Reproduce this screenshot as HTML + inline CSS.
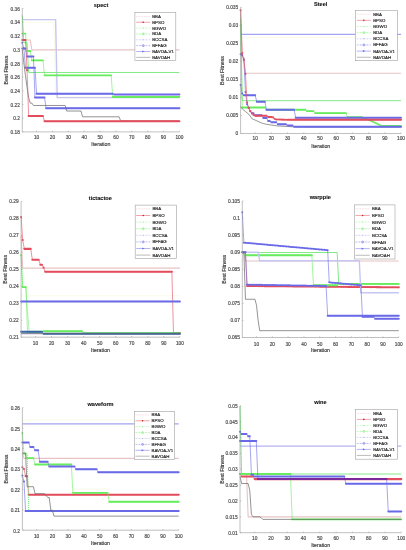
<!DOCTYPE html><html><head><meta charset="utf-8"><style>
html,body{margin:0;padding:0;background:#fff;width:406px;height:550px;overflow:hidden}
svg{display:block}
text{font-family:"Liberation Sans", sans-serif;fill:#3a3a3a;stroke:#3a3a3a;stroke-width:0.1px}
.tk{font-size:4.8px;fill:#4a4a4a;stroke:#4a4a4a;stroke-width:0.16px}
.al{font-size:5.25px;fill:#333;stroke:#333;stroke-width:0.14px}
.ti{font-size:5.6px;font-weight:bold;fill:#111;stroke:#111;stroke-width:0.1px}
.lg{font-size:4.4px;fill:#222;stroke:#222;stroke-width:0.15px}
</style></head><body>
<svg width="406" height="550" viewBox="0 0 406 550" style="will-change:transform">
<rect width="406" height="550" fill="#fff"/>
<path d="M22.30 22.12 L54.04 22.12 L55.62 96.91 L179.40 96.91" fill="none" stroke="#f9fbe8" stroke-width="1.0"/>
<path d="M22.30 39.96 L30.23 39.96 L31.82 49.91 L179.40 49.91" fill="none" stroke="#e8c3c6" stroke-width="1.1"/>
<path d="M22.30 19.65 L55.62 19.65 L57.21 97.66 L179.40 97.66" fill="none" stroke="#c6c6f2" stroke-width="1.4"/>
<path d="M22.30 15.26 L23.89 42.71 L27.06 42.71 L28.65 72.48 L179.40 72.48" fill="none" stroke="#74e878" stroke-width="0.9"/>
<path d="M22.30 33.58 L25.47 33.58 L27.06 50.94 L30.23 50.94 L31.82 60.34 L42.93 60.34 L44.52 75.36 L111.16 75.36 L112.75 96.98 L179.40 96.98" fill="none" stroke="#66ec5c" stroke-width="0.6"/>
<path d="M22.30 33.58H25.47M27.06 50.94H30.23M31.82 60.34H42.93M44.52 75.36H111.16M112.75 96.98H179.40" fill="none" stroke="#66ec5c" stroke-width="1.9" stroke-linecap="round"/>
<path d="M22.30 48.47 L23.89 48.47 L25.47 67.75 L34.99 67.75 L36.58 93.68 L112.75 93.68 L114.34 94.51 L179.40 94.51" fill="none" stroke="#6a6ae8" stroke-width="0.6"/>
<path d="M22.30 48.47H23.89M25.47 67.75H34.99M36.58 93.68H112.75M114.34 94.51H179.40" fill="none" stroke="#6a6ae8" stroke-width="2.0" stroke-linecap="round"/>
<path d="M22.30 42.71 L23.89 48.47 L25.47 48.47 L27.06 56.56 L33.41 56.56 L34.99 97.59 L44.52 97.59 L46.10 108.16 L179.40 108.16" fill="none" stroke="#6a6ae8" stroke-width="0.6"/>
<path d="M22.30 42.71h0.01M23.89 48.47H25.47M27.06 56.56H33.41M34.99 97.59H44.52M46.10 108.16H179.40" fill="none" stroke="#6a6ae8" stroke-width="2.0" stroke-linecap="round"/>
<path d="M22.30 49.57 L23.89 63.29 L25.47 75.64 L27.06 87.30 L28.65 97.59 L30.23 103.08 L31.82 103.08 L33.41 105.48 L65.15 105.48 L66.73 111.04 L81.01 111.04 L82.60 116.81 L119.10 116.81 L120.69 120.92 L179.40 120.92" fill="none" stroke="#666666" stroke-width="0.7"/>
<path d="M22.30 39.96 L25.47 39.96 L27.06 70.15 L28.65 116.05 L42.93 116.05 L44.52 121.27 L179.40 121.27" fill="none" stroke="#e34c5c" stroke-width="0.6"/>
<path d="M22.30 39.96H25.47M27.06 70.15h0.01M28.65 116.05H42.93M44.52 121.27H179.40" fill="none" stroke="#e34c5c" stroke-width="2.1" stroke-linecap="round"/>
<path d="M22.30 8.40 L22.30 131.90 L179.40 131.90" fill="none" stroke="#969696" stroke-width="0.6"/>
<line x1="36.58" y1="131.90" x2="36.58" y2="130.70" stroke="#969696" stroke-width="0.5"/>
<text x="36.58" y="139.20" text-anchor="middle" class="tk">10</text>
<line x1="52.45" y1="131.90" x2="52.45" y2="130.70" stroke="#969696" stroke-width="0.5"/>
<text x="52.45" y="139.20" text-anchor="middle" class="tk">20</text>
<line x1="68.32" y1="131.90" x2="68.32" y2="130.70" stroke="#969696" stroke-width="0.5"/>
<text x="68.32" y="139.20" text-anchor="middle" class="tk">30</text>
<line x1="84.19" y1="131.90" x2="84.19" y2="130.70" stroke="#969696" stroke-width="0.5"/>
<text x="84.19" y="139.20" text-anchor="middle" class="tk">40</text>
<line x1="100.06" y1="131.90" x2="100.06" y2="130.70" stroke="#969696" stroke-width="0.5"/>
<text x="100.06" y="139.20" text-anchor="middle" class="tk">50</text>
<line x1="115.93" y1="131.90" x2="115.93" y2="130.70" stroke="#969696" stroke-width="0.5"/>
<text x="115.93" y="139.20" text-anchor="middle" class="tk">60</text>
<line x1="131.79" y1="131.90" x2="131.79" y2="130.70" stroke="#969696" stroke-width="0.5"/>
<text x="131.79" y="139.20" text-anchor="middle" class="tk">70</text>
<line x1="147.66" y1="131.90" x2="147.66" y2="130.70" stroke="#969696" stroke-width="0.5"/>
<text x="147.66" y="139.20" text-anchor="middle" class="tk">80</text>
<line x1="163.53" y1="131.90" x2="163.53" y2="130.70" stroke="#969696" stroke-width="0.5"/>
<text x="163.53" y="139.20" text-anchor="middle" class="tk">90</text>
<line x1="179.40" y1="131.90" x2="179.40" y2="130.70" stroke="#969696" stroke-width="0.5"/>
<text x="179.40" y="139.20" text-anchor="middle" class="tk">100</text>
<line x1="22.30" y1="131.90" x2="23.50" y2="131.90" stroke="#969696" stroke-width="0.5"/>
<text x="19.90" y="134.20" text-anchor="end" class="tk">0.18</text>
<line x1="22.30" y1="118.18" x2="23.50" y2="118.18" stroke="#969696" stroke-width="0.5"/>
<text x="19.90" y="120.48" text-anchor="end" class="tk">0.2</text>
<line x1="22.30" y1="104.46" x2="23.50" y2="104.46" stroke="#969696" stroke-width="0.5"/>
<text x="19.90" y="106.76" text-anchor="end" class="tk">0.22</text>
<line x1="22.30" y1="90.73" x2="23.50" y2="90.73" stroke="#969696" stroke-width="0.5"/>
<text x="19.90" y="93.03" text-anchor="end" class="tk">0.24</text>
<line x1="22.30" y1="77.01" x2="23.50" y2="77.01" stroke="#969696" stroke-width="0.5"/>
<text x="19.90" y="79.31" text-anchor="end" class="tk">0.26</text>
<line x1="22.30" y1="63.29" x2="23.50" y2="63.29" stroke="#969696" stroke-width="0.5"/>
<text x="19.90" y="65.59" text-anchor="end" class="tk">0.28</text>
<line x1="22.30" y1="49.57" x2="23.50" y2="49.57" stroke="#969696" stroke-width="0.5"/>
<text x="19.90" y="51.87" text-anchor="end" class="tk">0.3</text>
<line x1="22.30" y1="35.84" x2="23.50" y2="35.84" stroke="#969696" stroke-width="0.5"/>
<text x="19.90" y="38.14" text-anchor="end" class="tk">0.32</text>
<line x1="22.30" y1="22.12" x2="23.50" y2="22.12" stroke="#969696" stroke-width="0.5"/>
<text x="19.90" y="24.42" text-anchor="end" class="tk">0.34</text>
<line x1="22.30" y1="8.40" x2="23.50" y2="8.40" stroke="#969696" stroke-width="0.5"/>
<text x="19.90" y="10.70" text-anchor="end" class="tk">0.36</text>
<text x="100.85" y="146.40" text-anchor="middle" class="al">Iteration</text>
<text transform="translate(8.30 70.15) rotate(-90)" text-anchor="middle" class="al">Best Fitness</text>
<text x="101.00" y="6.80" text-anchor="middle" class="ti">spect</text>
<rect x="134.90" y="12.30" width="40.90" height="48.00" fill="#fff" stroke="#a0a0a0" stroke-width="0.6"/>
<line x1="136.20" y1="16.40" x2="150.30" y2="16.40" stroke="#f2a6a6" stroke-width="0.5" stroke-dasharray="0.8 0.8"/>
<text x="152.20" y="17.90" class="lg">BBA</text>
<line x1="136.20" y1="22.25" x2="150.30" y2="22.25" stroke="#e34c5c" stroke-width="0.5"/>
<circle cx="143.25" cy="22.25" r="0.8" fill="#d02020"/>
<text x="152.20" y="23.75" class="lg">BPSO</text>
<line x1="136.20" y1="28.10" x2="150.30" y2="28.10" stroke="#8ef08e" stroke-width="0.5" stroke-dasharray="1.6 0.6 0.4 0.6"/>
<circle cx="143.25" cy="28.10" r="0.5" fill="#8ef08e"/>
<text x="152.20" y="29.60" class="lg">BGWO</text>
<line x1="136.20" y1="33.95" x2="150.30" y2="33.95" stroke="#74ec6c" stroke-width="0.5" stroke-dasharray="1.6 0.6 0.4 0.6"/>
<circle cx="143.25" cy="33.95" r="1.0" fill="none" stroke="#74ec6c" stroke-width="0.6"/>
<text x="152.20" y="35.45" class="lg">BDA</text>
<line x1="136.20" y1="39.80" x2="150.30" y2="39.80" stroke="#a8a8ee" stroke-width="0.5" stroke-dasharray="1.6 0.6 0.4 0.6"/>
<circle cx="143.25" cy="39.80" r="0.5" fill="#a8a8ee"/>
<text x="152.20" y="41.30" class="lg">BCCSA</text>
<line x1="136.20" y1="45.65" x2="150.30" y2="45.65" stroke="#7070e8" stroke-width="0.5" stroke-dasharray="1.6 0.6 0.4 0.6"/>
<circle cx="143.25" cy="45.65" r="1.0" fill="none" stroke="#7070e8" stroke-width="0.6"/>
<text x="152.20" y="47.15" class="lg">BFFAG</text>
<line x1="136.20" y1="51.50" x2="150.30" y2="51.50" stroke="#6a6ae8" stroke-width="0.5"/>
<path d="M142.25 50.40 L144.45 51.50 L142.25 52.60 Z" fill="#6a6ae8"/>
<text x="152.20" y="53.00" class="lg">BAVOA-V1</text>
<line x1="136.20" y1="57.35" x2="150.30" y2="57.35" stroke="#777777" stroke-width="0.5"/>
<text x="152.20" y="58.85" class="lg">BAVOAH</text>
<path d="M240.60 37.66 L401.00 37.66" fill="none" stroke="#f9fbe8" stroke-width="1.0"/>
<path d="M240.60 10.28 L242.22 57.84 L243.84 57.84 L245.46 73.26 L401.00 73.26" fill="none" stroke="#e8c3c6" stroke-width="1.1"/>
<path d="M240.60 34.42 L401.00 34.42" fill="none" stroke="#a4a4f0" stroke-width="1.3"/>
<path d="M240.60 18.21 L242.22 100.71 L401.00 100.71" fill="none" stroke="#74e878" stroke-width="0.9"/>
<path d="M240.60 25.41 L242.22 107.56 L264.90 107.56 L266.52 109.72 L305.41 109.72 L307.03 111.16 L313.51 111.16 L315.13 113.14 L345.91 113.14 L347.53 117.29 L362.12 117.29 L363.74 117.92 L365.36 118.55 L366.98 119.18 L368.60 119.81 L370.22 120.53 L371.84 121.25 L373.46 121.97 L375.08 122.69 L376.70 123.50 L378.32 124.31 L379.94 125.12 L381.56 125.93 L401.00 125.93" fill="none" stroke="#66ec5c" stroke-width="0.6"/>
<path d="M240.60 25.41h0.01M242.22 107.56H264.90M266.52 109.72H305.41M307.03 111.16H313.51M315.13 113.14H345.91M347.53 117.29H362.12M363.74 117.92h0.01M365.36 118.55h0.01M366.98 119.18h0.01M368.60 119.81h0.01M370.22 120.53h0.01M371.84 121.25h0.01M373.46 121.97h0.01M375.08 122.69h0.01M376.70 123.50h0.01M378.32 124.31h0.01M379.94 125.12h0.01M381.56 125.93H401.00" fill="none" stroke="#66ec5c" stroke-width="1.9" stroke-linecap="round"/>
<path d="M240.60 85.08 L242.22 93.51 L243.84 95.20 L255.18 95.20 L256.80 101.79 L264.90 101.79 L266.52 109.72 L294.07 109.72 L295.69 117.76 L401.00 117.76" fill="none" stroke="#6a6ae8" stroke-width="0.6"/>
<path d="M240.60 85.08h0.01M242.22 93.51h0.01M243.84 95.20H255.18M256.80 101.79H264.90M266.52 109.72H294.07M295.69 117.76H401.00" fill="none" stroke="#6a6ae8" stroke-width="2.0" stroke-linecap="round"/>
<path d="M240.60 106.48 L242.22 108.90 L243.84 110.23 L245.46 111.55 L247.08 112.88 L248.70 114.20 L250.32 116.21 L251.94 118.66 L253.56 119.38 L255.18 120.10 L256.80 120.82 L258.42 121.54 L260.04 122.26 L261.66 122.98 L263.28 123.55 L264.90 123.90 L266.52 124.25 L268.14 124.56 L269.76 124.81 L271.38 125.05 L273.00 125.29 L274.62 125.53 L276.24 125.77 L277.86 125.96 L279.48 126.05 L281.11 126.13 L282.73 126.22 L284.35 126.31 L285.97 126.39 L287.59 126.48 L289.21 126.57 L290.83 126.65 L292.45 126.70 L294.07 126.74 L295.69 126.79 L297.31 126.83 L298.93 126.88 L300.55 126.92 L302.17 126.97 L303.79 127.01 L401.00 127.01" fill="none" stroke="#666666" stroke-width="0.7"/>
<path d="M240.60 54.24 L242.22 55.19 L243.84 59.31 L245.46 91.99 L247.08 104.24 L248.70 107.73 L250.32 111.23 L251.94 113.32 L253.56 113.32 L255.18 115.13 L261.66 115.13 L263.28 118.01 L266.52 118.01 L268.14 120.89 L269.76 120.89 L271.38 122.33 L276.24 122.33 L277.86 124.13 L285.97 124.13 L287.59 125.57 L292.45 125.57 L294.07 126.65 L401.00 126.65" fill="none" stroke="#6a6ae8" stroke-width="0.6"/>
<path d="M240.60 54.24h0.01M242.22 55.19h0.01M243.84 59.31h0.01M245.46 91.99h0.01M247.08 104.24h0.01M248.70 107.73h0.01M250.32 111.23h0.01M251.94 113.32H253.56M255.18 115.13H261.66M263.28 118.01H266.52M268.14 120.89H269.76M271.38 122.33H276.24M277.86 124.13H285.97M287.59 125.57H292.45M294.07 126.65H401.00" fill="none" stroke="#6a6ae8" stroke-width="2.0" stroke-linecap="round"/>
<path d="M240.60 10.28 L242.22 53.16 L243.84 59.95 L245.46 73.87 L247.08 102.53 L248.70 108.12 L250.32 111.15 L251.94 113.56 L253.56 115.03 L255.18 115.77 L266.52 115.77 L268.14 116.93 L271.38 116.93 L273.00 117.35 L274.62 118.75 L276.24 119.47 L277.86 119.52 L279.48 119.57 L281.11 119.62 L282.73 119.67 L284.35 119.71 L285.97 119.76 L287.59 119.81 L401.00 119.81" fill="none" stroke="#e34c5c" stroke-width="0.6"/>
<path d="M240.60 10.28h0.01M242.22 53.16h0.01M243.84 59.95h0.01M245.46 73.87h0.01M247.08 102.53h0.01M248.70 108.12h0.01M250.32 111.15h0.01M251.94 113.56h0.01M253.56 115.03h0.01M255.18 115.77H266.52M268.14 116.93H271.38M273.00 117.35h0.01M274.62 118.75h0.01M276.24 119.47h0.01M277.86 119.52h0.01M279.48 119.57h0.01M281.11 119.62h0.01M282.73 119.67h0.01M284.35 119.71h0.01M285.97 119.76h0.01M287.59 119.81H401.00" fill="none" stroke="#e34c5c" stroke-width="2.1" stroke-linecap="round"/>
<path d="M240.60 7.40 L240.60 133.50 L401.00 133.50" fill="none" stroke="#969696" stroke-width="0.6"/>
<line x1="255.18" y1="133.50" x2="255.18" y2="132.30" stroke="#969696" stroke-width="0.5"/>
<text x="255.18" y="140.40" text-anchor="middle" class="tk">10</text>
<line x1="271.38" y1="133.50" x2="271.38" y2="132.30" stroke="#969696" stroke-width="0.5"/>
<text x="271.38" y="140.40" text-anchor="middle" class="tk">20</text>
<line x1="287.59" y1="133.50" x2="287.59" y2="132.30" stroke="#969696" stroke-width="0.5"/>
<text x="287.59" y="140.40" text-anchor="middle" class="tk">30</text>
<line x1="303.79" y1="133.50" x2="303.79" y2="132.30" stroke="#969696" stroke-width="0.5"/>
<text x="303.79" y="140.40" text-anchor="middle" class="tk">40</text>
<line x1="319.99" y1="133.50" x2="319.99" y2="132.30" stroke="#969696" stroke-width="0.5"/>
<text x="319.99" y="140.40" text-anchor="middle" class="tk">50</text>
<line x1="336.19" y1="133.50" x2="336.19" y2="132.30" stroke="#969696" stroke-width="0.5"/>
<text x="336.19" y="140.40" text-anchor="middle" class="tk">60</text>
<line x1="352.39" y1="133.50" x2="352.39" y2="132.30" stroke="#969696" stroke-width="0.5"/>
<text x="352.39" y="140.40" text-anchor="middle" class="tk">70</text>
<line x1="368.60" y1="133.50" x2="368.60" y2="132.30" stroke="#969696" stroke-width="0.5"/>
<text x="368.60" y="140.40" text-anchor="middle" class="tk">80</text>
<line x1="384.80" y1="133.50" x2="384.80" y2="132.30" stroke="#969696" stroke-width="0.5"/>
<text x="384.80" y="140.40" text-anchor="middle" class="tk">90</text>
<line x1="401.00" y1="133.50" x2="401.00" y2="132.30" stroke="#969696" stroke-width="0.5"/>
<text x="401.00" y="140.40" text-anchor="middle" class="tk">100</text>
<line x1="240.60" y1="133.50" x2="241.80" y2="133.50" stroke="#969696" stroke-width="0.5"/>
<text x="238.20" y="135.35" text-anchor="end" class="tk">0</text>
<line x1="240.60" y1="115.49" x2="241.80" y2="115.49" stroke="#969696" stroke-width="0.5"/>
<text x="238.20" y="117.34" text-anchor="end" class="tk">0.005</text>
<line x1="240.60" y1="97.47" x2="241.80" y2="97.47" stroke="#969696" stroke-width="0.5"/>
<text x="238.20" y="99.32" text-anchor="end" class="tk">0.01</text>
<line x1="240.60" y1="79.46" x2="241.80" y2="79.46" stroke="#969696" stroke-width="0.5"/>
<text x="238.20" y="81.31" text-anchor="end" class="tk">0.015</text>
<line x1="240.60" y1="61.44" x2="241.80" y2="61.44" stroke="#969696" stroke-width="0.5"/>
<text x="238.20" y="63.29" text-anchor="end" class="tk">0.02</text>
<line x1="240.60" y1="43.43" x2="241.80" y2="43.43" stroke="#969696" stroke-width="0.5"/>
<text x="238.20" y="45.28" text-anchor="end" class="tk">0.025</text>
<line x1="240.60" y1="25.41" x2="241.80" y2="25.41" stroke="#969696" stroke-width="0.5"/>
<text x="238.20" y="27.26" text-anchor="end" class="tk">0.03</text>
<line x1="240.60" y1="7.40" x2="241.80" y2="7.40" stroke="#969696" stroke-width="0.5"/>
<text x="238.20" y="9.25" text-anchor="end" class="tk">0.035</text>
<text x="320.80" y="148.00" text-anchor="middle" class="al">Iteration</text>
<text transform="translate(223.70 70.45) rotate(-90)" text-anchor="middle" class="al">Best Fitness</text>
<text x="320.70" y="5.80" text-anchor="middle" class="ti">Steel</text>
<rect x="355.30" y="10.50" width="42.10" height="50.20" fill="#fff" stroke="#a0a0a0" stroke-width="0.6"/>
<line x1="356.80" y1="14.20" x2="370.90" y2="14.20" stroke="#f2a6a6" stroke-width="0.5" stroke-dasharray="0.8 0.8"/>
<text x="373.20" y="15.70" class="lg">BBA</text>
<line x1="356.80" y1="20.35" x2="370.90" y2="20.35" stroke="#e34c5c" stroke-width="0.5"/>
<circle cx="363.85" cy="20.35" r="0.8" fill="#d02020"/>
<text x="373.20" y="21.85" class="lg">BPSO</text>
<line x1="356.80" y1="26.50" x2="370.90" y2="26.50" stroke="#8ef08e" stroke-width="0.5" stroke-dasharray="1.6 0.6 0.4 0.6"/>
<circle cx="363.85" cy="26.50" r="0.5" fill="#8ef08e"/>
<text x="373.20" y="28.00" class="lg">BGWO</text>
<line x1="356.80" y1="32.65" x2="370.90" y2="32.65" stroke="#74ec6c" stroke-width="0.5" stroke-dasharray="1.6 0.6 0.4 0.6"/>
<circle cx="363.85" cy="32.65" r="1.0" fill="none" stroke="#74ec6c" stroke-width="0.6"/>
<text x="373.20" y="34.15" class="lg">BDA</text>
<line x1="356.80" y1="38.80" x2="370.90" y2="38.80" stroke="#a8a8ee" stroke-width="0.5" stroke-dasharray="1.6 0.6 0.4 0.6"/>
<circle cx="363.85" cy="38.80" r="0.5" fill="#a8a8ee"/>
<text x="373.20" y="40.30" class="lg">BCCSA</text>
<line x1="356.80" y1="44.95" x2="370.90" y2="44.95" stroke="#7070e8" stroke-width="0.5" stroke-dasharray="1.6 0.6 0.4 0.6"/>
<circle cx="363.85" cy="44.95" r="1.0" fill="none" stroke="#7070e8" stroke-width="0.6"/>
<text x="373.20" y="46.45" class="lg">BFFAG</text>
<line x1="356.80" y1="51.10" x2="370.90" y2="51.10" stroke="#6a6ae8" stroke-width="0.5"/>
<path d="M362.85 50.00 L365.05 51.10 L362.85 52.20 Z" fill="#6a6ae8"/>
<text x="373.20" y="52.60" class="lg">BAVOA-V1</text>
<line x1="356.80" y1="57.25" x2="370.90" y2="57.25" stroke="#777777" stroke-width="0.5"/>
<text x="373.20" y="58.75" class="lg">BAVOAH</text>
<path d="M21.10 295.81 L179.90 295.81" fill="none" stroke="#f9fbe8" stroke-width="1.0"/>
<path d="M21.10 235.42 L22.70 268.16 L179.90 268.16" fill="none" stroke="#e8c3c6" stroke-width="1.1"/>
<path d="M21.10 217.11 L22.70 240.00 L24.31 248.83 L30.72 248.83 L32.33 259.68 L38.74 259.68 L40.35 264.77 L41.95 264.77 L43.56 267.65 L45.16 271.72 L171.88 271.72 L173.48 333.13 L179.90 333.13" fill="none" stroke="#e34c5c" stroke-width="0.6"/>
<path d="M21.10 217.11h0.01M22.70 240.00h0.01M24.31 248.83H30.72M32.33 259.68H38.74M40.35 264.77H41.95M43.56 267.65h0.01M45.16 271.72H171.88M173.48 333.13H179.90" fill="none" stroke="#e34c5c" stroke-width="2.1" stroke-linecap="round"/>
<path d="M21.10 254.93 L22.70 287.16 L25.91 287.16 L27.52 312.27 L29.12 331.26 L82.05 331.26 L83.66 333.13 L179.90 333.13" fill="none" stroke="#74e878" stroke-width="0.9" stroke-dasharray="1.2 0.8"/>
<path d="M21.10 254.93 L22.70 287.16 L25.91 287.16 L27.52 332.79 L41.95 332.79 L43.56 331.26 L82.05 331.26 L83.66 333.13 L179.90 333.13" fill="none" stroke="#66ec5c" stroke-width="0.6"/>
<path d="M21.10 254.93h0.01M22.70 287.16H25.91M27.52 332.79H41.95M43.56 331.26H82.05M83.66 333.13H179.90" fill="none" stroke="#66ec5c" stroke-width="1.9" stroke-linecap="round"/>
<path d="M21.10 333.64 L179.90 333.64" fill="none" stroke="#c6c6f2" stroke-width="1.4"/>
<path d="M21.10 331.77 L41.95 331.77 L43.56 333.64 L179.90 333.64" fill="none" stroke="#3a63a8" stroke-width="0.6"/>
<path d="M21.10 331.77H41.95M43.56 333.64H179.90" fill="none" stroke="#3a63a8" stroke-width="2.0" stroke-linecap="round"/>
<path d="M21.10 301.41 L179.90 301.41" fill="none" stroke="#6a6ae8" stroke-width="0.6"/>
<path d="M21.10 301.41H179.90" fill="none" stroke="#6a6ae8" stroke-width="2.0" stroke-linecap="round"/>
<path d="M21.10 333.64 L179.90 333.64" fill="none" stroke="#666666" stroke-width="0.7"/>
<path d="M21.10 201.50 L21.10 337.20 L179.90 337.20" fill="none" stroke="#969696" stroke-width="0.6"/>
<line x1="35.54" y1="337.20" x2="35.54" y2="336.00" stroke="#969696" stroke-width="0.5"/>
<text x="35.54" y="345.20" text-anchor="middle" class="tk">10</text>
<line x1="51.58" y1="337.20" x2="51.58" y2="336.00" stroke="#969696" stroke-width="0.5"/>
<text x="51.58" y="345.20" text-anchor="middle" class="tk">20</text>
<line x1="67.62" y1="337.20" x2="67.62" y2="336.00" stroke="#969696" stroke-width="0.5"/>
<text x="67.62" y="345.20" text-anchor="middle" class="tk">30</text>
<line x1="83.66" y1="337.20" x2="83.66" y2="336.00" stroke="#969696" stroke-width="0.5"/>
<text x="83.66" y="345.20" text-anchor="middle" class="tk">40</text>
<line x1="99.70" y1="337.20" x2="99.70" y2="336.00" stroke="#969696" stroke-width="0.5"/>
<text x="99.70" y="345.20" text-anchor="middle" class="tk">50</text>
<line x1="115.74" y1="337.20" x2="115.74" y2="336.00" stroke="#969696" stroke-width="0.5"/>
<text x="115.74" y="345.20" text-anchor="middle" class="tk">60</text>
<line x1="131.78" y1="337.20" x2="131.78" y2="336.00" stroke="#969696" stroke-width="0.5"/>
<text x="131.78" y="345.20" text-anchor="middle" class="tk">70</text>
<line x1="147.82" y1="337.20" x2="147.82" y2="336.00" stroke="#969696" stroke-width="0.5"/>
<text x="147.82" y="345.20" text-anchor="middle" class="tk">80</text>
<line x1="163.86" y1="337.20" x2="163.86" y2="336.00" stroke="#969696" stroke-width="0.5"/>
<text x="163.86" y="345.20" text-anchor="middle" class="tk">90</text>
<line x1="179.90" y1="337.20" x2="179.90" y2="336.00" stroke="#969696" stroke-width="0.5"/>
<text x="179.90" y="345.20" text-anchor="middle" class="tk">100</text>
<line x1="21.10" y1="337.20" x2="22.30" y2="337.20" stroke="#969696" stroke-width="0.5"/>
<text x="18.70" y="339.10" text-anchor="end" class="tk">0.21</text>
<line x1="21.10" y1="320.24" x2="22.30" y2="320.24" stroke="#969696" stroke-width="0.5"/>
<text x="18.70" y="322.14" text-anchor="end" class="tk">0.22</text>
<line x1="21.10" y1="303.27" x2="22.30" y2="303.27" stroke="#969696" stroke-width="0.5"/>
<text x="18.70" y="305.17" text-anchor="end" class="tk">0.23</text>
<line x1="21.10" y1="286.31" x2="22.30" y2="286.31" stroke="#969696" stroke-width="0.5"/>
<text x="18.70" y="288.21" text-anchor="end" class="tk">0.24</text>
<line x1="21.10" y1="269.35" x2="22.30" y2="269.35" stroke="#969696" stroke-width="0.5"/>
<text x="18.70" y="271.25" text-anchor="end" class="tk">0.25</text>
<line x1="21.10" y1="252.39" x2="22.30" y2="252.39" stroke="#969696" stroke-width="0.5"/>
<text x="18.70" y="254.29" text-anchor="end" class="tk">0.26</text>
<line x1="21.10" y1="235.42" x2="22.30" y2="235.42" stroke="#969696" stroke-width="0.5"/>
<text x="18.70" y="237.32" text-anchor="end" class="tk">0.27</text>
<line x1="21.10" y1="218.46" x2="22.30" y2="218.46" stroke="#969696" stroke-width="0.5"/>
<text x="18.70" y="220.36" text-anchor="end" class="tk">0.28</text>
<line x1="21.10" y1="201.50" x2="22.30" y2="201.50" stroke="#969696" stroke-width="0.5"/>
<text x="18.70" y="203.40" text-anchor="end" class="tk">0.29</text>
<text x="100.50" y="351.70" text-anchor="middle" class="al">Iteration</text>
<text transform="translate(7.00 269.35) rotate(-90)" text-anchor="middle" class="al">Best Fitness</text>
<text x="100.30" y="199.50" text-anchor="middle" class="ti">tictactoe</text>
<rect x="135.20" y="205.10" width="41.40" height="53.30" fill="#fff" stroke="#a0a0a0" stroke-width="0.6"/>
<line x1="136.20" y1="208.90" x2="150.30" y2="208.90" stroke="#f2a6a6" stroke-width="0.5" stroke-dasharray="0.8 0.8"/>
<text x="152.40" y="210.40" class="lg">BBA</text>
<line x1="136.20" y1="215.50" x2="150.30" y2="215.50" stroke="#e34c5c" stroke-width="0.5"/>
<circle cx="143.25" cy="215.50" r="0.8" fill="#d02020"/>
<text x="152.40" y="217.00" class="lg">BPSO</text>
<line x1="136.20" y1="222.10" x2="150.30" y2="222.10" stroke="#8ef08e" stroke-width="0.5" stroke-dasharray="1.6 0.6 0.4 0.6"/>
<circle cx="143.25" cy="222.10" r="0.5" fill="#8ef08e"/>
<text x="152.40" y="223.60" class="lg">BGWO</text>
<line x1="136.20" y1="228.70" x2="150.30" y2="228.70" stroke="#74ec6c" stroke-width="0.5" stroke-dasharray="1.6 0.6 0.4 0.6"/>
<circle cx="143.25" cy="228.70" r="1.0" fill="none" stroke="#74ec6c" stroke-width="0.6"/>
<text x="152.40" y="230.20" class="lg">BDA</text>
<line x1="136.20" y1="235.30" x2="150.30" y2="235.30" stroke="#a8a8ee" stroke-width="0.5" stroke-dasharray="1.6 0.6 0.4 0.6"/>
<circle cx="143.25" cy="235.30" r="0.5" fill="#a8a8ee"/>
<text x="152.40" y="236.80" class="lg">BCCSA</text>
<line x1="136.20" y1="241.90" x2="150.30" y2="241.90" stroke="#7070e8" stroke-width="0.5" stroke-dasharray="1.6 0.6 0.4 0.6"/>
<circle cx="143.25" cy="241.90" r="1.0" fill="none" stroke="#7070e8" stroke-width="0.6"/>
<text x="152.40" y="243.40" class="lg">BFFAG</text>
<line x1="136.20" y1="248.50" x2="150.30" y2="248.50" stroke="#6a6ae8" stroke-width="0.5"/>
<path d="M142.25 247.40 L144.45 248.50 L142.25 249.60 Z" fill="#6a6ae8"/>
<text x="152.40" y="250.00" class="lg">BAVOA-V1</text>
<line x1="136.20" y1="255.10" x2="150.30" y2="255.10" stroke="#777777" stroke-width="0.5"/>
<text x="152.40" y="256.60" class="lg">BAVOAH</text>
<path d="M242.30 252.19 L243.88 252.19 L245.46 261.06 L398.80 261.06" fill="none" stroke="#e8c3c6" stroke-width="1.1"/>
<path d="M242.30 252.19 L245.46 252.19 L247.04 285.98 L248.62 285.99 L250.20 286.01 L251.78 286.02 L253.37 286.03 L254.95 286.05 L256.53 286.06 L258.11 286.08 L259.69 286.09 L261.27 286.10 L262.85 286.12 L264.43 286.13 L266.01 286.15 L267.59 286.16 L269.17 286.18 L270.75 286.19 L272.34 286.20 L273.92 286.22 L275.50 286.23 L277.08 286.25 L278.66 286.26 L280.24 286.27 L281.82 286.29 L283.40 286.30 L284.98 286.32 L286.56 286.33 L288.14 286.35 L289.72 286.36 L291.31 286.37 L292.89 286.39 L294.47 286.40 L296.05 286.42 L297.63 286.43 L299.21 286.44 L300.79 286.46 L302.37 286.47 L303.95 286.49 L305.53 286.50 L307.11 286.51 L308.69 286.53 L310.27 286.54 L311.86 286.56 L313.44 286.57 L315.02 286.59 L316.60 286.60 L318.18 286.61 L319.76 286.63 L321.34 286.64 L322.92 286.66 L324.50 286.67 L326.08 286.68 L327.66 286.70 L329.24 286.71 L330.83 286.73 L332.41 286.74 L333.99 286.76 L335.57 286.77 L337.15 286.78 L338.73 286.80 L340.31 286.81 L341.89 286.83 L343.47 286.84 L345.05 286.85 L346.63 286.87 L348.21 286.88 L349.79 286.90 L351.38 286.91 L352.96 286.93 L354.54 286.94 L356.12 286.95 L357.70 286.97 L359.28 286.98 L360.86 287.00 L362.44 287.01 L364.02 287.02 L365.60 287.04 L367.18 287.05 L368.76 287.07 L370.35 287.08 L371.93 287.10 L373.51 287.11 L375.09 287.12 L376.67 287.14 L378.25 287.15 L379.83 287.17 L381.41 287.18 L382.99 287.19 L384.57 287.21 L386.15 287.22 L387.73 287.24 L389.32 287.25 L390.90 287.27 L392.48 287.28 L394.06 287.29 L395.64 287.31 L397.22 287.32 L398.80 287.34" fill="none" stroke="#e34c5c" stroke-width="0.6"/>
<path d="M242.30 252.19H245.46M247.04 285.98h0.01M248.62 285.99h0.01M250.20 286.01h0.01M251.78 286.02h0.01M253.37 286.03h0.01M254.95 286.05h0.01M256.53 286.06h0.01M258.11 286.08h0.01M259.69 286.09h0.01M261.27 286.10h0.01M262.85 286.12h0.01M264.43 286.13h0.01M266.01 286.15h0.01M267.59 286.16h0.01M269.17 286.18h0.01M270.75 286.19h0.01M272.34 286.20h0.01M273.92 286.22h0.01M275.50 286.23h0.01M277.08 286.25h0.01M278.66 286.26h0.01M280.24 286.27h0.01M281.82 286.29h0.01M283.40 286.30h0.01M284.98 286.32h0.01M286.56 286.33h0.01M288.14 286.35h0.01M289.72 286.36h0.01M291.31 286.37h0.01M292.89 286.39h0.01M294.47 286.40h0.01M296.05 286.42h0.01M297.63 286.43h0.01M299.21 286.44h0.01M300.79 286.46h0.01M302.37 286.47h0.01M303.95 286.49h0.01M305.53 286.50h0.01M307.11 286.51h0.01M308.69 286.53h0.01M310.27 286.54h0.01M311.86 286.56h0.01M313.44 286.57h0.01M315.02 286.59h0.01M316.60 286.60h0.01M318.18 286.61h0.01M319.76 286.63h0.01M321.34 286.64h0.01M322.92 286.66h0.01M324.50 286.67h0.01M326.08 286.68h0.01M327.66 286.70h0.01M329.24 286.71h0.01M330.83 286.73h0.01M332.41 286.74h0.01M333.99 286.76h0.01M335.57 286.77h0.01M337.15 286.78h0.01M338.73 286.80h0.01M340.31 286.81h0.01M341.89 286.83h0.01M343.47 286.84h0.01M345.05 286.85h0.01M346.63 286.87h0.01M348.21 286.88h0.01M349.79 286.90h0.01M351.38 286.91h0.01M352.96 286.93h0.01M354.54 286.94h0.01M356.12 286.95h0.01M357.70 286.97h0.01M359.28 286.98h0.01M360.86 287.00h0.01M362.44 287.01h0.01M364.02 287.02h0.01M365.60 287.04h0.01M367.18 287.05h0.01M368.76 287.07h0.01M370.35 287.08h0.01M371.93 287.10h0.01M373.51 287.11h0.01M375.09 287.12h0.01M376.67 287.14h0.01M378.25 287.15h0.01M379.83 287.17h0.01M381.41 287.18h0.01M382.99 287.19h0.01M384.57 287.21h0.01M386.15 287.22h0.01M387.73 287.24h0.01M389.32 287.25h0.01M390.90 287.27h0.01M392.48 287.28h0.01M394.06 287.29h0.01M395.64 287.31h0.01M397.22 287.32h0.01M398.80 287.34h0.01" fill="none" stroke="#e34c5c" stroke-width="2.1" stroke-linecap="round"/>
<path d="M242.30 252.53 L337.15 252.53 L338.73 283.92 L398.80 283.92" fill="none" stroke="#74e878" stroke-width="0.9"/>
<path d="M242.30 252.19 L243.88 252.19 L245.46 255.26 L311.86 255.26 L313.44 285.29 L337.15 285.29 L338.73 283.92 L398.80 283.92" fill="none" stroke="#66ec5c" stroke-width="0.6"/>
<path d="M242.30 252.19H243.88M245.46 255.26H311.86M313.44 285.29H337.15M338.73 283.92H398.80" fill="none" stroke="#66ec5c" stroke-width="1.9" stroke-linecap="round"/>
<path d="M242.30 252.19 L258.11 252.19 L259.69 260.72 L359.28 260.72 L360.86 292.80 L398.80 292.80" fill="none" stroke="#c6c6f2" stroke-width="1.4"/>
<path d="M242.30 212.26 L243.88 242.63 L245.46 242.77 L247.04 242.92 L248.62 243.06 L250.20 243.20 L251.78 243.34 L253.37 243.48 L254.95 243.62 L256.53 243.77 L258.11 243.91 L259.69 244.05 L261.27 244.19 L262.85 244.33 L264.43 244.47 L266.01 244.62 L267.59 244.76 L269.17 244.90 L270.75 245.04 L272.34 245.18 L273.92 245.32 L275.50 245.47 L277.08 245.61 L278.66 245.75 L280.24 245.89 L281.82 246.03 L283.40 246.17 L284.98 246.32 L286.56 246.46 L288.14 246.60 L289.72 246.74 L291.31 246.88 L292.89 247.02 L294.47 247.17 L296.05 247.31 L297.63 247.45 L299.21 247.59 L300.79 247.73 L302.37 247.87 L303.95 248.02 L305.53 248.16 L307.11 248.30 L308.69 248.44 L310.27 248.58 L311.86 248.72 L313.44 248.87 L315.02 249.01 L316.60 249.15 L318.18 249.29 L319.76 249.43 L321.34 249.57 L322.92 249.72 L324.50 249.86 L326.08 250.00 L327.66 250.14 L329.24 282.34 L330.83 282.48 L332.41 282.63 L333.99 282.78 L335.57 282.93 L337.15 283.07 L338.73 283.22 L340.31 283.37 L341.89 283.52 L343.47 283.66 L345.05 283.81 L346.63 283.96 L348.21 284.11 L349.79 284.26 L351.38 284.40 L352.96 284.55 L354.54 284.70 L356.12 284.85 L357.70 284.99 L359.28 285.14 L360.86 285.29 L362.44 316.68 L373.51 316.68 L375.09 318.73 L398.80 318.73" fill="none" stroke="#6a6ae8" stroke-width="0.6"/>
<path d="M242.30 212.26h0.01M243.88 242.63h0.01M245.46 242.77h0.01M247.04 242.92h0.01M248.62 243.06h0.01M250.20 243.20h0.01M251.78 243.34h0.01M253.37 243.48h0.01M254.95 243.62h0.01M256.53 243.77h0.01M258.11 243.91h0.01M259.69 244.05h0.01M261.27 244.19h0.01M262.85 244.33h0.01M264.43 244.47h0.01M266.01 244.62h0.01M267.59 244.76h0.01M269.17 244.90h0.01M270.75 245.04h0.01M272.34 245.18h0.01M273.92 245.32h0.01M275.50 245.47h0.01M277.08 245.61h0.01M278.66 245.75h0.01M280.24 245.89h0.01M281.82 246.03h0.01M283.40 246.17h0.01M284.98 246.32h0.01M286.56 246.46h0.01M288.14 246.60h0.01M289.72 246.74h0.01M291.31 246.88h0.01M292.89 247.02h0.01M294.47 247.17h0.01M296.05 247.31h0.01M297.63 247.45h0.01M299.21 247.59h0.01M300.79 247.73h0.01M302.37 247.87h0.01M303.95 248.02h0.01M305.53 248.16h0.01M307.11 248.30h0.01M308.69 248.44h0.01M310.27 248.58h0.01M311.86 248.72h0.01M313.44 248.87h0.01M315.02 249.01h0.01M316.60 249.15h0.01M318.18 249.29h0.01M319.76 249.43h0.01M321.34 249.57h0.01M322.92 249.72h0.01M324.50 249.86h0.01M326.08 250.00h0.01M327.66 250.14h0.01M329.24 282.34h0.01M330.83 282.48h0.01M332.41 282.63h0.01M333.99 282.78h0.01M335.57 282.93h0.01M337.15 283.07h0.01M338.73 283.22h0.01M340.31 283.37h0.01M341.89 283.52h0.01M343.47 283.66h0.01M345.05 283.81h0.01M346.63 283.96h0.01M348.21 284.11h0.01M349.79 284.26h0.01M351.38 284.40h0.01M352.96 284.55h0.01M354.54 284.70h0.01M356.12 284.85h0.01M357.70 284.99h0.01M359.28 285.14h0.01M360.86 285.29h0.01M362.44 316.68H373.51M375.09 318.73H398.80" fill="none" stroke="#6a6ae8" stroke-width="2.0" stroke-linecap="round"/>
<path d="M242.30 252.19 L245.46 252.19 L247.04 284.62 L248.62 284.64 L250.20 284.67 L251.78 284.70 L253.37 284.73 L254.95 284.75 L256.53 284.78 L258.11 284.81 L259.69 284.83 L261.27 284.86 L262.85 284.89 L264.43 284.92 L266.01 284.94 L267.59 284.97 L269.17 285.00 L270.75 285.02 L272.34 285.05 L273.92 285.08 L275.50 285.10 L277.08 285.13 L278.66 285.16 L280.24 285.19 L281.82 285.21 L283.40 285.24 L284.98 285.27 L286.56 285.29 L288.14 285.32 L289.72 285.35 L291.31 285.38 L292.89 285.40 L294.47 285.43 L296.05 285.46 L297.63 285.48 L299.21 285.51 L300.79 285.54 L302.37 285.56 L303.95 285.59 L305.53 285.62 L307.11 285.65 L308.69 285.67 L310.27 285.70 L311.86 285.73 L313.44 285.75 L315.02 285.78 L316.60 285.81 L318.18 285.84 L319.76 285.86 L321.34 285.89 L322.92 285.92 L324.50 285.94 L326.08 285.97 L327.66 315.66 L398.80 315.66" fill="none" stroke="#6a6ae8" stroke-width="0.6"/>
<path d="M242.30 252.19H245.46M247.04 284.62h0.01M248.62 284.64h0.01M250.20 284.67h0.01M251.78 284.70h0.01M253.37 284.73h0.01M254.95 284.75h0.01M256.53 284.78h0.01M258.11 284.81h0.01M259.69 284.83h0.01M261.27 284.86h0.01M262.85 284.89h0.01M264.43 284.92h0.01M266.01 284.94h0.01M267.59 284.97h0.01M269.17 285.00h0.01M270.75 285.02h0.01M272.34 285.05h0.01M273.92 285.08h0.01M275.50 285.10h0.01M277.08 285.13h0.01M278.66 285.16h0.01M280.24 285.19h0.01M281.82 285.21h0.01M283.40 285.24h0.01M284.98 285.27h0.01M286.56 285.29h0.01M288.14 285.32h0.01M289.72 285.35h0.01M291.31 285.38h0.01M292.89 285.40h0.01M294.47 285.43h0.01M296.05 285.46h0.01M297.63 285.48h0.01M299.21 285.51h0.01M300.79 285.54h0.01M302.37 285.56h0.01M303.95 285.59h0.01M305.53 285.62h0.01M307.11 285.65h0.01M308.69 285.67h0.01M310.27 285.70h0.01M311.86 285.73h0.01M313.44 285.75h0.01M315.02 285.78h0.01M316.60 285.81h0.01M318.18 285.84h0.01M319.76 285.86h0.01M321.34 285.89h0.01M322.92 285.92h0.01M324.50 285.94h0.01M326.08 285.97h0.01M327.66 315.66H398.80" fill="none" stroke="#6a6ae8" stroke-width="2.0" stroke-linecap="round"/>
<path d="M242.30 252.19 L243.88 252.19 L245.46 299.28 L254.95 299.28 L256.53 305.26 L258.11 320.21 L259.69 330.68 L398.80 330.68" fill="none" stroke="#666666" stroke-width="0.7"/>
<path d="M242.30 201.00 L242.30 337.50 L398.80 337.50" fill="none" stroke="#969696" stroke-width="0.6"/>
<line x1="256.53" y1="337.50" x2="256.53" y2="336.30" stroke="#969696" stroke-width="0.5"/>
<text x="256.53" y="345.50" text-anchor="middle" class="tk">10</text>
<line x1="272.34" y1="337.50" x2="272.34" y2="336.30" stroke="#969696" stroke-width="0.5"/>
<text x="272.34" y="345.50" text-anchor="middle" class="tk">20</text>
<line x1="288.14" y1="337.50" x2="288.14" y2="336.30" stroke="#969696" stroke-width="0.5"/>
<text x="288.14" y="345.50" text-anchor="middle" class="tk">30</text>
<line x1="303.95" y1="337.50" x2="303.95" y2="336.30" stroke="#969696" stroke-width="0.5"/>
<text x="303.95" y="345.50" text-anchor="middle" class="tk">40</text>
<line x1="319.76" y1="337.50" x2="319.76" y2="336.30" stroke="#969696" stroke-width="0.5"/>
<text x="319.76" y="345.50" text-anchor="middle" class="tk">50</text>
<line x1="335.57" y1="337.50" x2="335.57" y2="336.30" stroke="#969696" stroke-width="0.5"/>
<text x="335.57" y="345.50" text-anchor="middle" class="tk">60</text>
<line x1="351.38" y1="337.50" x2="351.38" y2="336.30" stroke="#969696" stroke-width="0.5"/>
<text x="351.38" y="345.50" text-anchor="middle" class="tk">70</text>
<line x1="367.18" y1="337.50" x2="367.18" y2="336.30" stroke="#969696" stroke-width="0.5"/>
<text x="367.18" y="345.50" text-anchor="middle" class="tk">80</text>
<line x1="382.99" y1="337.50" x2="382.99" y2="336.30" stroke="#969696" stroke-width="0.5"/>
<text x="382.99" y="345.50" text-anchor="middle" class="tk">90</text>
<line x1="398.80" y1="337.50" x2="398.80" y2="336.30" stroke="#969696" stroke-width="0.5"/>
<text x="398.80" y="345.50" text-anchor="middle" class="tk">100</text>
<line x1="242.30" y1="337.50" x2="243.50" y2="337.50" stroke="#969696" stroke-width="0.5"/>
<text x="239.90" y="339.35" text-anchor="end" class="tk">0.065</text>
<line x1="242.30" y1="320.44" x2="243.50" y2="320.44" stroke="#969696" stroke-width="0.5"/>
<text x="239.90" y="322.29" text-anchor="end" class="tk">0.07</text>
<line x1="242.30" y1="303.38" x2="243.50" y2="303.38" stroke="#969696" stroke-width="0.5"/>
<text x="239.90" y="305.23" text-anchor="end" class="tk">0.075</text>
<line x1="242.30" y1="286.31" x2="243.50" y2="286.31" stroke="#969696" stroke-width="0.5"/>
<text x="239.90" y="288.16" text-anchor="end" class="tk">0.08</text>
<line x1="242.30" y1="269.25" x2="243.50" y2="269.25" stroke="#969696" stroke-width="0.5"/>
<text x="239.90" y="271.10" text-anchor="end" class="tk">0.085</text>
<line x1="242.30" y1="252.19" x2="243.50" y2="252.19" stroke="#969696" stroke-width="0.5"/>
<text x="239.90" y="254.04" text-anchor="end" class="tk">0.09</text>
<line x1="242.30" y1="235.12" x2="243.50" y2="235.12" stroke="#969696" stroke-width="0.5"/>
<text x="239.90" y="236.97" text-anchor="end" class="tk">0.095</text>
<line x1="242.30" y1="218.06" x2="243.50" y2="218.06" stroke="#969696" stroke-width="0.5"/>
<text x="239.90" y="219.91" text-anchor="end" class="tk">0.1</text>
<line x1="242.30" y1="201.00" x2="243.50" y2="201.00" stroke="#969696" stroke-width="0.5"/>
<text x="239.90" y="202.85" text-anchor="end" class="tk">0.105</text>
<text x="320.55" y="352.00" text-anchor="middle" class="al">Iteration</text>
<text transform="translate(226.00 269.25) rotate(-90)" text-anchor="middle" class="al">Best Fitness</text>
<text x="320.30" y="198.80" text-anchor="middle" class="ti">warppie</text>
<rect x="354.30" y="204.90" width="40.70" height="54.10" fill="#fff" stroke="#a0a0a0" stroke-width="0.6"/>
<line x1="355.50" y1="208.80" x2="369.70" y2="208.80" stroke="#f2a6a6" stroke-width="0.5" stroke-dasharray="0.8 0.8"/>
<text x="371.90" y="210.30" class="lg">BBA</text>
<line x1="355.50" y1="215.44" x2="369.70" y2="215.44" stroke="#e34c5c" stroke-width="0.5"/>
<circle cx="362.60" cy="215.44" r="0.8" fill="#d02020"/>
<text x="371.90" y="216.94" class="lg">BPSO</text>
<line x1="355.50" y1="222.08" x2="369.70" y2="222.08" stroke="#8ef08e" stroke-width="0.5" stroke-dasharray="1.6 0.6 0.4 0.6"/>
<circle cx="362.60" cy="222.08" r="0.5" fill="#8ef08e"/>
<text x="371.90" y="223.58" class="lg">BGWO</text>
<line x1="355.50" y1="228.72" x2="369.70" y2="228.72" stroke="#74ec6c" stroke-width="0.5" stroke-dasharray="1.6 0.6 0.4 0.6"/>
<circle cx="362.60" cy="228.72" r="1.0" fill="none" stroke="#74ec6c" stroke-width="0.6"/>
<text x="371.90" y="230.22" class="lg">BDA</text>
<line x1="355.50" y1="235.36" x2="369.70" y2="235.36" stroke="#a8a8ee" stroke-width="0.5" stroke-dasharray="1.6 0.6 0.4 0.6"/>
<circle cx="362.60" cy="235.36" r="0.5" fill="#a8a8ee"/>
<text x="371.90" y="236.86" class="lg">BCCSA</text>
<line x1="355.50" y1="242.00" x2="369.70" y2="242.00" stroke="#7070e8" stroke-width="0.5" stroke-dasharray="1.6 0.6 0.4 0.6"/>
<circle cx="362.60" cy="242.00" r="1.0" fill="none" stroke="#7070e8" stroke-width="0.6"/>
<text x="371.90" y="243.50" class="lg">BFFAG</text>
<line x1="355.50" y1="248.64" x2="369.70" y2="248.64" stroke="#6a6ae8" stroke-width="0.5"/>
<path d="M361.60 247.54 L363.80 248.64 L361.60 249.74 Z" fill="#6a6ae8"/>
<text x="371.90" y="250.14" class="lg">BAVOA-V1</text>
<line x1="355.50" y1="255.28" x2="369.70" y2="255.28" stroke="#777777" stroke-width="0.5"/>
<text x="371.90" y="256.78" class="lg">BAVOAH</text>
<path d="M22.40 419.95 L178.70 419.95" fill="none" stroke="#f9fbe8" stroke-width="1.0"/>
<path d="M22.40 452.62 L23.98 458.33 L178.70 458.33" fill="none" stroke="#e8c3c6" stroke-width="1.1"/>
<path d="M22.40 467.32 L23.98 468.95 L25.56 476.10 L27.14 476.10 L28.72 494.68 L178.70 494.68" fill="none" stroke="#e34c5c" stroke-width="0.6"/>
<path d="M22.40 467.32h0.01M23.98 468.95h0.01M25.56 476.10H27.14M28.72 494.68H178.70" fill="none" stroke="#e34c5c" stroke-width="2.1" stroke-linecap="round"/>
<path d="M22.40 453.64 L27.14 453.64 L28.72 511.01 L178.70 511.01" fill="none" stroke="#74e878" stroke-width="0.9" stroke-dasharray="1.2 0.8"/>
<path d="M72.92 488.96 L107.65 488.96" fill="none" stroke="#f9fbe8" stroke-width="1.0"/>
<path d="M22.40 433.02 L23.98 453.64 L25.56 453.64 L27.14 458.13 L33.45 458.13 L35.03 464.46 L71.34 464.46 L72.92 492.84 L107.65 492.84 L109.23 501.82 L178.70 501.82" fill="none" stroke="#66ec5c" stroke-width="0.6"/>
<path d="M22.40 433.02h0.01M23.98 453.64H25.56M27.14 458.13H33.45M35.03 464.46H71.34M72.92 492.84H107.65M109.23 501.82H178.70" fill="none" stroke="#66ec5c" stroke-width="1.9" stroke-linecap="round"/>
<path d="M22.40 423.83 L178.70 423.83" fill="none" stroke="#a4a4f0" stroke-width="1.3"/>
<path d="M22.40 442.61 L28.72 442.61 L30.29 447.10 L33.45 447.10 L35.03 450.37 L38.19 450.37 L39.77 461.80 L47.66 461.80 L49.24 466.50 L74.50 466.50 L76.08 469.15 L96.60 469.15 L98.18 472.22 L178.70 472.22" fill="none" stroke="#6a6ae8" stroke-width="0.6"/>
<path d="M22.40 442.61H28.72M30.29 447.10H33.45M35.03 450.37H38.19M39.77 461.80H47.66M49.24 466.50H74.50M76.08 469.15H96.60M98.18 472.22H178.70" fill="none" stroke="#6a6ae8" stroke-width="2.0" stroke-linecap="round"/>
<path d="M22.40 475.48 L23.98 481.40 L25.56 511.01 L178.70 511.01" fill="none" stroke="#6a6ae8" stroke-width="0.6"/>
<path d="M22.40 475.48h0.01M23.98 481.40h0.01M25.56 511.01H178.70" fill="none" stroke="#6a6ae8" stroke-width="2.0" stroke-linecap="round"/>
<path d="M22.40 453.02 L25.56 453.02 L27.14 486.71 L33.45 486.71 L35.03 493.65 L44.50 493.65 L46.08 495.49 L47.66 497.53 L49.24 497.53 L50.82 510.19 L52.40 510.19 L53.98 516.11 L178.70 516.11" fill="none" stroke="#666666" stroke-width="0.7"/>
<path d="M22.40 407.70 L22.40 530.20 L178.70 530.20" fill="none" stroke="#969696" stroke-width="0.6"/>
<line x1="36.61" y1="530.20" x2="36.61" y2="529.00" stroke="#969696" stroke-width="0.5"/>
<text x="36.61" y="537.50" text-anchor="middle" class="tk">10</text>
<line x1="52.40" y1="530.20" x2="52.40" y2="529.00" stroke="#969696" stroke-width="0.5"/>
<text x="52.40" y="537.50" text-anchor="middle" class="tk">20</text>
<line x1="68.18" y1="530.20" x2="68.18" y2="529.00" stroke="#969696" stroke-width="0.5"/>
<text x="68.18" y="537.50" text-anchor="middle" class="tk">30</text>
<line x1="83.97" y1="530.20" x2="83.97" y2="529.00" stroke="#969696" stroke-width="0.5"/>
<text x="83.97" y="537.50" text-anchor="middle" class="tk">40</text>
<line x1="99.76" y1="530.20" x2="99.76" y2="529.00" stroke="#969696" stroke-width="0.5"/>
<text x="99.76" y="537.50" text-anchor="middle" class="tk">50</text>
<line x1="115.55" y1="530.20" x2="115.55" y2="529.00" stroke="#969696" stroke-width="0.5"/>
<text x="115.55" y="537.50" text-anchor="middle" class="tk">60</text>
<line x1="131.34" y1="530.20" x2="131.34" y2="529.00" stroke="#969696" stroke-width="0.5"/>
<text x="131.34" y="537.50" text-anchor="middle" class="tk">70</text>
<line x1="147.12" y1="530.20" x2="147.12" y2="529.00" stroke="#969696" stroke-width="0.5"/>
<text x="147.12" y="537.50" text-anchor="middle" class="tk">80</text>
<line x1="162.91" y1="530.20" x2="162.91" y2="529.00" stroke="#969696" stroke-width="0.5"/>
<text x="162.91" y="537.50" text-anchor="middle" class="tk">90</text>
<line x1="178.70" y1="530.20" x2="178.70" y2="529.00" stroke="#969696" stroke-width="0.5"/>
<text x="178.70" y="537.50" text-anchor="middle" class="tk">100</text>
<line x1="22.40" y1="530.20" x2="23.60" y2="530.20" stroke="#969696" stroke-width="0.5"/>
<text x="20.00" y="532.70" text-anchor="end" class="tk">0.2</text>
<line x1="22.40" y1="509.78" x2="23.60" y2="509.78" stroke="#969696" stroke-width="0.5"/>
<text x="20.00" y="512.28" text-anchor="end" class="tk">0.21</text>
<line x1="22.40" y1="489.37" x2="23.60" y2="489.37" stroke="#969696" stroke-width="0.5"/>
<text x="20.00" y="491.87" text-anchor="end" class="tk">0.22</text>
<line x1="22.40" y1="468.95" x2="23.60" y2="468.95" stroke="#969696" stroke-width="0.5"/>
<text x="20.00" y="471.45" text-anchor="end" class="tk">0.23</text>
<line x1="22.40" y1="448.53" x2="23.60" y2="448.53" stroke="#969696" stroke-width="0.5"/>
<text x="20.00" y="451.03" text-anchor="end" class="tk">0.24</text>
<line x1="22.40" y1="428.12" x2="23.60" y2="428.12" stroke="#969696" stroke-width="0.5"/>
<text x="20.00" y="430.62" text-anchor="end" class="tk">0.25</text>
<line x1="22.40" y1="407.70" x2="23.60" y2="407.70" stroke="#969696" stroke-width="0.5"/>
<text x="20.00" y="410.20" text-anchor="end" class="tk">0.26</text>
<text x="100.55" y="544.70" text-anchor="middle" class="al">Iteration</text>
<text transform="translate(8.30 468.95) rotate(-90)" text-anchor="middle" class="al">Best Fitness</text>
<text x="100.50" y="405.50" text-anchor="middle" class="ti">waveform</text>
<rect x="134.30" y="411.40" width="40.00" height="48.20" fill="#fff" stroke="#a0a0a0" stroke-width="0.6"/>
<line x1="135.50" y1="414.90" x2="149.70" y2="414.90" stroke="#f2a6a6" stroke-width="0.5" stroke-dasharray="0.8 0.8"/>
<text x="151.50" y="416.40" class="lg">BBA</text>
<line x1="135.50" y1="420.80" x2="149.70" y2="420.80" stroke="#e34c5c" stroke-width="0.5"/>
<circle cx="142.60" cy="420.80" r="0.8" fill="#d02020"/>
<text x="151.50" y="422.30" class="lg">BPSO</text>
<line x1="135.50" y1="426.70" x2="149.70" y2="426.70" stroke="#8ef08e" stroke-width="0.5" stroke-dasharray="1.6 0.6 0.4 0.6"/>
<circle cx="142.60" cy="426.70" r="0.5" fill="#8ef08e"/>
<text x="151.50" y="428.20" class="lg">BGWO</text>
<line x1="135.50" y1="432.60" x2="149.70" y2="432.60" stroke="#74ec6c" stroke-width="0.5" stroke-dasharray="1.6 0.6 0.4 0.6"/>
<circle cx="142.60" cy="432.60" r="1.0" fill="none" stroke="#74ec6c" stroke-width="0.6"/>
<text x="151.50" y="434.10" class="lg">BDA</text>
<line x1="135.50" y1="438.50" x2="149.70" y2="438.50" stroke="#a8a8ee" stroke-width="0.5" stroke-dasharray="1.6 0.6 0.4 0.6"/>
<circle cx="142.60" cy="438.50" r="0.5" fill="#a8a8ee"/>
<text x="151.50" y="440.00" class="lg">BCCSA</text>
<line x1="135.50" y1="444.40" x2="149.70" y2="444.40" stroke="#7070e8" stroke-width="0.5" stroke-dasharray="1.6 0.6 0.4 0.6"/>
<circle cx="142.60" cy="444.40" r="1.0" fill="none" stroke="#7070e8" stroke-width="0.6"/>
<text x="151.50" y="445.90" class="lg">BFFAG</text>
<line x1="135.50" y1="450.30" x2="149.70" y2="450.30" stroke="#6a6ae8" stroke-width="0.5"/>
<path d="M141.60 449.20 L143.80 450.30 L141.60 451.40 Z" fill="#6a6ae8"/>
<text x="151.50" y="451.80" class="lg">BAVOA-V1</text>
<line x1="135.50" y1="456.20" x2="149.70" y2="456.20" stroke="#777777" stroke-width="0.5"/>
<text x="151.50" y="457.70" class="lg">BAVOAH</text>
<path d="M240.00 474.01 L246.52 474.01 L248.15 516.84 L401.30 516.84" fill="none" stroke="#e8c3c6" stroke-width="1.1"/>
<path d="M240.00 474.01 L241.63 476.55 L253.03 476.55 L254.66 479.08 L401.30 479.08" fill="none" stroke="#e34c5c" stroke-width="0.6"/>
<path d="M240.00 474.01h0.01M241.63 476.55H253.03M254.66 479.08H401.30" fill="none" stroke="#e34c5c" stroke-width="2.1" stroke-linecap="round"/>
<path d="M240.00 405.80 L241.63 474.01 L401.30 474.01" fill="none" stroke="#74e878" stroke-width="0.9"/>
<path d="M240.00 474.01 L290.51 474.01 L292.14 519.38 L401.30 519.38" fill="none" stroke="#66ec5c" stroke-width="0.6"/>
<path d="M240.00 474.01H290.51M292.14 519.38H401.30" fill="none" stroke="#66ec5c" stroke-width="1.9" stroke-linecap="round"/>
<path d="M240.00 446.09 L401.30 446.09" fill="none" stroke="#b4b4f0" stroke-width="1.3"/>
<path d="M240.00 431.81 L241.63 434.04 L246.52 434.04 L248.15 436.26 L249.78 436.26 L251.41 474.64 L253.03 474.64 L254.66 476.55 L344.27 476.55 L345.90 483.68 L401.30 483.68" fill="none" stroke="#6a6ae8" stroke-width="0.6"/>
<path d="M240.00 431.81h0.01M241.63 434.04H246.52M248.15 436.26H249.78M251.41 474.64H253.03M254.66 476.55H344.27M345.90 483.68H401.30" fill="none" stroke="#6a6ae8" stroke-width="2.0" stroke-linecap="round"/>
<path d="M240.00 441.01 L256.29 441.01 L257.92 479.08 L386.64 479.08 L388.27 511.44 L401.30 511.44" fill="none" stroke="#6a6ae8" stroke-width="0.6"/>
<path d="M240.00 441.01H256.29M257.92 479.08H386.64M388.27 511.44H401.30" fill="none" stroke="#6a6ae8" stroke-width="2.0" stroke-linecap="round"/>
<path d="M257.92 479.08 L386.64 479.08" fill="none" stroke="#7a2a9a" stroke-width="0.6"/>
<path d="M257.92 479.08H386.64" fill="none" stroke="#7a2a9a" stroke-width="2.0" stroke-linecap="round"/>
<path d="M240.00 476.55 L241.63 483.53 L248.15 483.53 L249.78 490.66 L251.41 514.46 L253.03 516.84 L259.55 516.84 L261.18 517.74 L262.81 519.38 L401.30 519.38" fill="none" stroke="#666666" stroke-width="0.7"/>
<path d="M240.00 405.80 L240.00 532.70 L401.30 532.70" fill="none" stroke="#969696" stroke-width="0.6"/>
<line x1="254.66" y1="532.70" x2="254.66" y2="531.50" stroke="#969696" stroke-width="0.5"/>
<text x="254.66" y="540.00" text-anchor="middle" class="tk">10</text>
<line x1="270.96" y1="532.70" x2="270.96" y2="531.50" stroke="#969696" stroke-width="0.5"/>
<text x="270.96" y="540.00" text-anchor="middle" class="tk">20</text>
<line x1="287.25" y1="532.70" x2="287.25" y2="531.50" stroke="#969696" stroke-width="0.5"/>
<text x="287.25" y="540.00" text-anchor="middle" class="tk">30</text>
<line x1="303.54" y1="532.70" x2="303.54" y2="531.50" stroke="#969696" stroke-width="0.5"/>
<text x="303.54" y="540.00" text-anchor="middle" class="tk">40</text>
<line x1="319.84" y1="532.70" x2="319.84" y2="531.50" stroke="#969696" stroke-width="0.5"/>
<text x="319.84" y="540.00" text-anchor="middle" class="tk">50</text>
<line x1="336.13" y1="532.70" x2="336.13" y2="531.50" stroke="#969696" stroke-width="0.5"/>
<text x="336.13" y="540.00" text-anchor="middle" class="tk">60</text>
<line x1="352.42" y1="532.70" x2="352.42" y2="531.50" stroke="#969696" stroke-width="0.5"/>
<text x="352.42" y="540.00" text-anchor="middle" class="tk">70</text>
<line x1="368.71" y1="532.70" x2="368.71" y2="531.50" stroke="#969696" stroke-width="0.5"/>
<text x="368.71" y="540.00" text-anchor="middle" class="tk">80</text>
<line x1="385.01" y1="532.70" x2="385.01" y2="531.50" stroke="#969696" stroke-width="0.5"/>
<text x="385.01" y="540.00" text-anchor="middle" class="tk">90</text>
<line x1="401.30" y1="532.70" x2="401.30" y2="531.50" stroke="#969696" stroke-width="0.5"/>
<text x="401.30" y="540.00" text-anchor="middle" class="tk">100</text>
<line x1="240.00" y1="532.70" x2="241.20" y2="532.70" stroke="#969696" stroke-width="0.5"/>
<text x="237.60" y="534.55" text-anchor="end" class="tk">0.01</text>
<line x1="240.00" y1="516.84" x2="241.20" y2="516.84" stroke="#969696" stroke-width="0.5"/>
<text x="237.60" y="518.69" text-anchor="end" class="tk">0.015</text>
<line x1="240.00" y1="500.98" x2="241.20" y2="500.98" stroke="#969696" stroke-width="0.5"/>
<text x="237.60" y="502.83" text-anchor="end" class="tk">0.02</text>
<line x1="240.00" y1="485.11" x2="241.20" y2="485.11" stroke="#969696" stroke-width="0.5"/>
<text x="237.60" y="486.96" text-anchor="end" class="tk">0.025</text>
<line x1="240.00" y1="469.25" x2="241.20" y2="469.25" stroke="#969696" stroke-width="0.5"/>
<text x="237.60" y="471.10" text-anchor="end" class="tk">0.03</text>
<line x1="240.00" y1="453.39" x2="241.20" y2="453.39" stroke="#969696" stroke-width="0.5"/>
<text x="237.60" y="455.24" text-anchor="end" class="tk">0.035</text>
<line x1="240.00" y1="437.53" x2="241.20" y2="437.53" stroke="#969696" stroke-width="0.5"/>
<text x="237.60" y="439.38" text-anchor="end" class="tk">0.04</text>
<line x1="240.00" y1="421.66" x2="241.20" y2="421.66" stroke="#969696" stroke-width="0.5"/>
<text x="237.60" y="423.51" text-anchor="end" class="tk">0.045</text>
<line x1="240.00" y1="405.80" x2="241.20" y2="405.80" stroke="#969696" stroke-width="0.5"/>
<text x="237.60" y="407.65" text-anchor="end" class="tk">0.05</text>
<text x="320.65" y="547.20" text-anchor="middle" class="al">Iteration</text>
<text transform="translate(224.00 469.25) rotate(-90)" text-anchor="middle" class="al">Best Fitness</text>
<text x="320.40" y="403.90" text-anchor="middle" class="ti">wine</text>
<rect x="355.30" y="409.30" width="42.10" height="49.90" fill="#fff" stroke="#a0a0a0" stroke-width="0.6"/>
<line x1="356.80" y1="413.40" x2="370.90" y2="413.40" stroke="#f2a6a6" stroke-width="0.5" stroke-dasharray="0.8 0.8"/>
<text x="373.20" y="414.90" class="lg">BBA</text>
<line x1="356.80" y1="419.40" x2="370.90" y2="419.40" stroke="#e34c5c" stroke-width="0.5"/>
<circle cx="363.85" cy="419.40" r="0.8" fill="#d02020"/>
<text x="373.20" y="420.90" class="lg">BPSO</text>
<line x1="356.80" y1="425.40" x2="370.90" y2="425.40" stroke="#8ef08e" stroke-width="0.5" stroke-dasharray="1.6 0.6 0.4 0.6"/>
<circle cx="363.85" cy="425.40" r="0.5" fill="#8ef08e"/>
<text x="373.20" y="426.90" class="lg">BGWO</text>
<line x1="356.80" y1="431.40" x2="370.90" y2="431.40" stroke="#74ec6c" stroke-width="0.5" stroke-dasharray="1.6 0.6 0.4 0.6"/>
<circle cx="363.85" cy="431.40" r="1.0" fill="none" stroke="#74ec6c" stroke-width="0.6"/>
<text x="373.20" y="432.90" class="lg">BDA</text>
<line x1="356.80" y1="437.40" x2="370.90" y2="437.40" stroke="#a8a8ee" stroke-width="0.5" stroke-dasharray="1.6 0.6 0.4 0.6"/>
<circle cx="363.85" cy="437.40" r="0.5" fill="#a8a8ee"/>
<text x="373.20" y="438.90" class="lg">BCCSA</text>
<line x1="356.80" y1="443.40" x2="370.90" y2="443.40" stroke="#7070e8" stroke-width="0.5" stroke-dasharray="1.6 0.6 0.4 0.6"/>
<circle cx="363.85" cy="443.40" r="1.0" fill="none" stroke="#7070e8" stroke-width="0.6"/>
<text x="373.20" y="444.90" class="lg">BFFAG</text>
<line x1="356.80" y1="449.40" x2="370.90" y2="449.40" stroke="#6a6ae8" stroke-width="0.5"/>
<path d="M362.85 448.30 L365.05 449.40 L362.85 450.50 Z" fill="#6a6ae8"/>
<text x="373.20" y="450.90" class="lg">BAVOA-V1</text>
<line x1="356.80" y1="455.40" x2="370.90" y2="455.40" stroke="#777777" stroke-width="0.5"/>
<text x="373.20" y="456.90" class="lg">BAVOAH</text>
</svg></body></html>
